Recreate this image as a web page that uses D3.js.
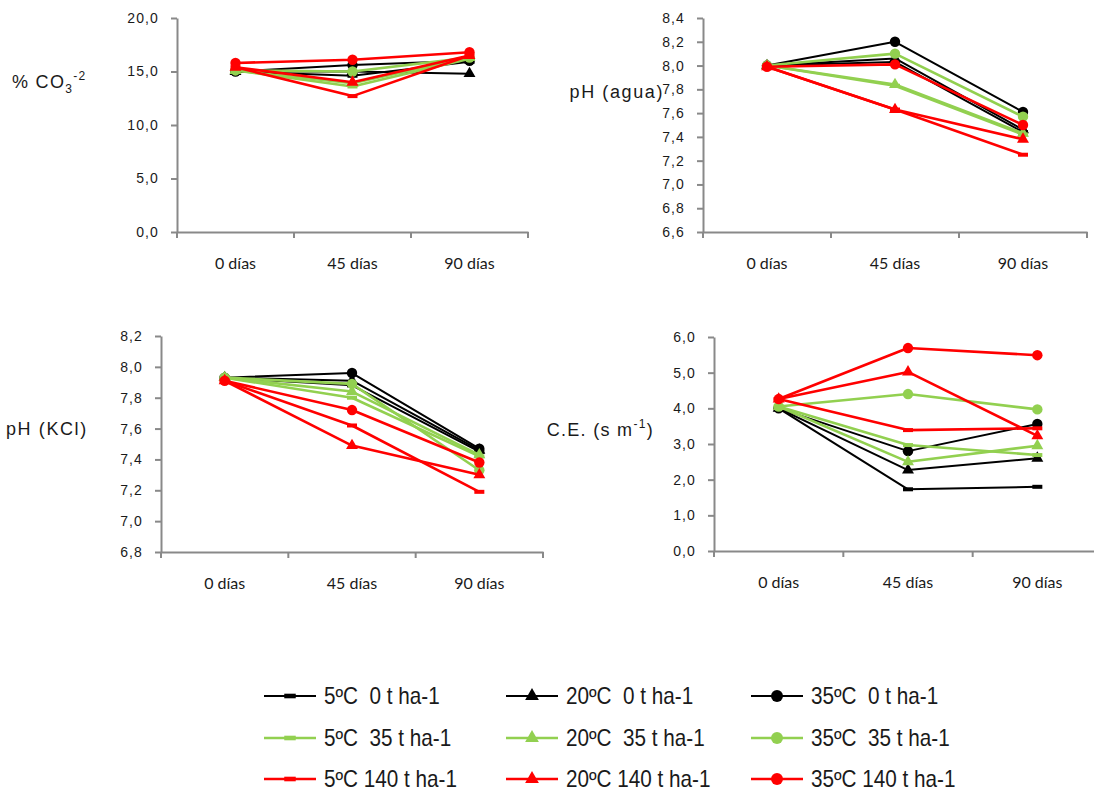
<!DOCTYPE html>
<html>
<head>
<meta charset="utf-8">
<script src="https://cdn.jsdelivr.net/npm/d3@7"></script>
<style>
  body { margin: 0; background: #fff; }
  svg { display: block; }
  .tick text { fill: #1a1a1a; }
</style>
</head>
<body>
<div id="chart"></div>
<script>
// categories and series
const categories = ["0 días", "45 días", "90 días"];
const seriesNames = [
  "5ºC  0 t ha-1", "20ºC  0 t ha-1", "35ºC  0 t ha-1",
  "5ºC  35 t ha-1", "20ºC  35 t ha-1", "35ºC  35 t ha-1",
  "5ºC 140 t ha-1", "20ºC 140 t ha-1", "35ºC 140 t ha-1"
];

// values, one row per series (same order as seriesNames)
const co3 = [
  [15.0, 14.6, 15.9],
  [15.0, 15.0, 14.8],
  [15.0, 15.6, 16.0],
  [15.1, 13.6, 16.2],
  [15.1, 13.9, 16.3],
  [15.1, 15.0, 16.3],
  [15.4, 12.7, 16.5],
  [15.4, 14.0, 16.5],
  [15.8, 16.1, 16.8]
];
const phAgua = [
  [8.00, 8.03, 7.44],
  [8.00, 8.06, 7.46],
  [8.00, 8.20, 7.61],
  [8.00, 7.83, 7.42],
  [8.00, 7.84, 7.43],
  [8.00, 8.10, 7.57],
  [7.99, 7.63, 7.25],
  [7.99, 7.63, 7.38],
  [7.99, 8.01, 7.50]
];
const phKCl = [
  [7.93, 7.88, 7.45],
  [7.93, 7.91, 7.46],
  [7.93, 7.96, 7.47],
  [7.93, 7.80, 7.42],
  [7.93, 7.84, 7.43],
  [7.93, 7.89, 7.33],
  [7.91, 7.62, 7.19],
  [7.91, 7.49, 7.30],
  [7.91, 7.72, 7.38]
];
const ce = [
  [4.00, 1.73, 1.80],
  [4.00, 2.27, 2.60],
  [4.00, 2.80, 3.56],
  [4.05, 2.97, 2.69],
  [4.05, 2.50, 2.95],
  [4.05, 4.40, 3.97],
  [4.26, 3.39, 3.44],
  [4.26, 5.02, 3.23],
  [4.26, 5.69, 5.49]
];

// styles
const colors = ["#000", "#000", "#000", "#92d050", "#92d050", "#92d050", "#ff0000", "#ff0000", "#ff0000"];
const markers = ["dash", "triangle", "circle", "dash", "triangle", "circle", "dash", "triangle", "circle"];
const widths = [2, 2, 2, 2.6, 2.6, 2.6, 2.6, 2.6, 2.6];

const width = 1094, height = 792;
const axisColor = "#898989";
const fmt = v => d3.format(".1f")(v).replace(".", ",");

const svg = d3.select("#chart").append("svg")
  .attr("width", width).attr("height", height);

const panels = [
  { data: co3, x0: 177, x1: 528, yTop: 18, yBot: 232, domain: [0, 20], ticks: 4,
    label: "co3", lx: 12, ly: 88, anchor: "start" },
  { data: phAgua, x0: 703, x1: 1087, yTop: 18, yBot: 232, domain: [6.6, 8.4], ticks: 9,
    label: "pH (agua)", lx: 664, ly: 98, anchor: "end" },
  { data: phKCl, x0: 161, x1: 543, yTop: 336, yBot: 552, domain: [6.8, 8.2], ticks: 7,
    label: "pH (KCl)", lx: 6, ly: 435, anchor: "start" },
  { data: ce, x0: 714, x1: 1102, yTop: 337, yBot: 551, domain: [0, 6], ticks: 6,
    label: "ce", lx: 654, ly: 436, anchor: "end" }
];

function drawMarker(g, type, color, x, y, scale) {
  if (type === "dash") {
    g.append("rect")
      .attr("x", x - 5 * scale).attr("y", y - 2 * scale)
      .attr("width", 10 * scale).attr("height", 4 * scale)
      .attr("fill", color);
  } else if (type === "triangle") {
    g.append("path")
      .attr("d", d3.symbol(d3.symbolTriangle, 62 * scale * scale)())
      .attr("transform", `translate(${x},${y})`)
      .attr("fill", color);
  } else {
    g.append("circle")
      .attr("cx", x).attr("cy", y).attr("r", 5.2 * scale)
      .attr("fill", color);
  }
}

panels.forEach(p => {
  const x = d3.scaleBand().domain(categories).range([p.x0, p.x1]).padding(0);
  const y = d3.scaleLinear().domain(p.domain).range([p.yBot, p.yTop]);

  // y axis
  const yAxis = svg.append("g")
    .attr("transform", `translate(${p.x0},0)`)
    .call(d3.axisLeft(y).ticks(p.ticks).tickFormat(fmt).tickSize(6).tickPadding(12).tickSizeOuter(0));
  yAxis.select(".domain").attr("stroke", axisColor).attr("stroke-width", 2);
  yAxis.selectAll(".tick line").attr("stroke", axisColor).attr("stroke-width", 2);
  yAxis.selectAll(".tick text")
    .attr("font-family", "'Liberation Sans', Arial, sans-serif")
    .attr("font-size", 14).attr("letter-spacing", 1.1);

  // x axis
  const xAxis = svg.append("g")
    .attr("transform", `translate(0,${p.yBot})`)
    .call(d3.axisBottom(x).tickSize(0).tickPadding(26).tickSizeOuter(0));
  xAxis.select(".domain").attr("stroke", axisColor).attr("stroke-width", 2);
  xAxis.selectAll(".tick text")
    .attr("font-family", "Lato, sans-serif")
    .attr("font-size", 16);
  xAxis.selectAll("line.bound")
    .data(d3.range(categories.length + 1))
    .join("line")
    .attr("class", "bound")
    .attr("x1", i => p.x0 + i * x.step()).attr("x2", i => p.x0 + i * x.step())
    .attr("y1", 0).attr("y2", 6)
    .attr("stroke", axisColor).attr("stroke-width", 2);

  // series
  const line = d3.line()
    .x((d, i) => x(categories[i]) + x.bandwidth() / 2)
    .y(d => y(d));
  p.data.forEach((vals, s) => {
    const g = svg.append("g");
    g.append("path")
      .attr("d", line(vals))
      .attr("fill", "none")
      .attr("stroke", colors[s])
      .attr("stroke-width", widths[s])
      .attr("stroke-linejoin", "round");
    vals.forEach((v, i) => {
      drawMarker(g, markers[s], colors[s], x(categories[i]) + x.bandwidth() / 2, y(v), 1);
    });
  });

  // y label
  const t = svg.append("text")
    .attr("x", p.lx).attr("y", p.ly)
    .attr("text-anchor", p.anchor)
    .attr("font-family", "'Liberation Sans', Arial, sans-serif")
    .attr("font-size", 18)
    .attr("letter-spacing", 1.3)
    .attr("fill", "#1a1a1a");
  if (p.label === "co3") {
    t.append("tspan").text("% CO");
    t.append("tspan").attr("font-size", 12).attr("dy", 5).text("3");
    t.append("tspan").attr("font-size", 12).attr("dy", -13).text("-2");
  } else if (p.label === "ce") {
    t.append("tspan").text("C.E. (s m");
    t.append("tspan").attr("font-size", 12).attr("dy", -8).text("-1");
    t.append("tspan").attr("dy", 8).text(")");
  } else {
    t.attr("letter-spacing", 1.6).text(p.label);
  }
});

// legend
const legendCols = [264, 506, 751];
const legendRows = [696, 738, 779];
seriesNames.forEach((name, s) => {
  const cx = legendCols[s % 3], cy = legendRows[Math.floor(s / 3)];
  const g = svg.append("g");
  g.append("line")
    .attr("x1", cx).attr("x2", cx + 52)
    .attr("y1", cy).attr("y2", cy)
    .attr("stroke", colors[s]).attr("stroke-width", widths[s]);
  drawMarker(g, markers[s], colors[s], cx + 26, cy, 1.15);
  g.append("text")
    .attr("transform", `translate(${cx + 60},${cy + 8}) scale(0.9,1)`)
    .attr("font-family", "'Liberation Sans', Arial, sans-serif")
    .attr("font-size", 23)
    .attr("fill", "#1a1a1a")
    .style("white-space", "pre")
    .text(name);
});
</script>
</body>
</html>
